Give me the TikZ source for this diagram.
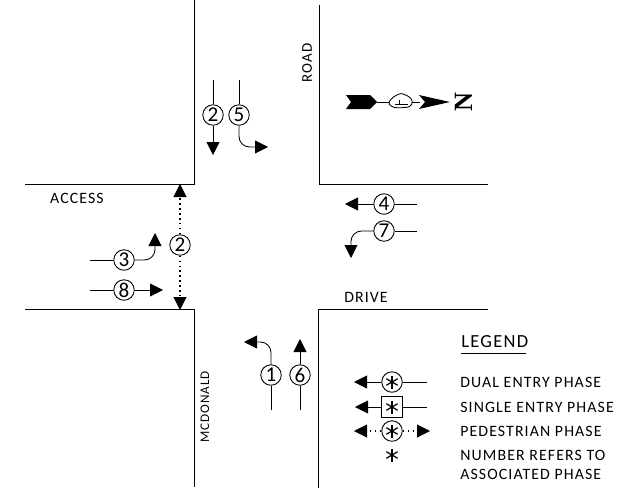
\documentclass[tikz,border=0pt]{standalone}
\usepackage{fontspec}
\setmainfont[LetterSpace=7]{Carlito}
\newfontfamily\northfont{Liberation Serif}
\usetikzlibrary{arrows.meta}
\tikzset{
   road/.style={line width=0.5pt},
   phase/.style={draw,circle,line width=0.5pt,minimum size=0.41cm,inner sep=0pt,fill=white,font=\fontsize{12}{12}\selectfont},
   boxphase/.style={draw,line width=0.5pt,minimum size=0.41cm,inner sep=0pt,fill=white},
   move/.style={line width=0.5pt,-{Triangle[length=2.6mm,width=2.6mm]}},
   tail/.style={line width=0.5pt},
   walk/.style={line width=0.6pt,dash pattern=on 0.8pt off 2pt,-{Triangle[length=2.6mm,width=2.6mm]}},
   street/.style={inner sep=0pt,font=\fontsize{9}{9}\selectfont},
   legtext/.style={anchor=west,inner sep=0pt,font=\fontsize{9}{9}\selectfont}
}
\begin{document}
\begin{tikzpicture}[x=0.2mm,y=-0.2mm]
   \useasboundingbox (0,0) rectangle (620,497);
   % street edges
   \draw[road] (194,0) -- (194,184) -- (25,184);
   \draw[road] (319,5) -- (319,184) -- (488,184);
   \draw[road] (25,309) -- (194,309) -- (194,487);
   \draw[road] (318,488) -- (318,309) -- (488,309);
   \node[street] (access) at (77,198) {ACCESS};
   \node[street] (drive) at (366,297) {DRIVE};
   \node[street,rotate=90,font=\fontsize{8.5}{8.5}\selectfont] (road) at (307,63) {ROAD};
   \node[street,rotate=90,font=\fontsize{7.5}{7.5}\selectfont] (mcdonald) at (205,407) {MCDONALD};
   % north arrow
   \fill (346,95) -- (370,95) -- (377,102) -- (370,109) -- (346,109) -- (351,102) -- cycle;
   \draw[road] (377,102) -- (420,102);
   \draw[road,fill=white,rounded corners=1.5pt] (388,103) -- (393,97) -- (401,93) -- (410,97) -- (413,102) -- (410,107) -- (398,108) -- (392,107) -- cycle;
   \draw[road] (395,104) -- (408,104) (399,104) -- (399,100);
   \fill (419,95) -- (450,102) -- (419,109) -- (425,102) -- cycle;
   \node[rotate=90,inner sep=0pt,font=\fontsize{15}{15}\selectfont\northfont\bfseries] (north) at (464,102) {N};
   % southbound
   \node[phase] (p2) at (213,115) {2};
   \node[phase] (p5) at (239,115) {5};
   \coordinate (p2top) at (213,80);
   \coordinate (p2end) at (213,155);
   \coordinate (p5top) at (239,80);
   \coordinate (p5end) at (268,147);
   \draw[tail] (p2top) -- (p2);
   \draw[move] (p2) -- (p2end);
   \draw[tail] (p5top) -- (p5);
   \draw[move,rounded corners=6pt] (p5) |- (p5end);
   % eastbound
   \node[phase] (p3) at (124,260) {3};
   \node[phase] (p8) at (124,290) {8};
   \coordinate (p3left) at (90,260);
   \coordinate (p3end) at (155,233);
   \coordinate (p8left) at (90,290);
   \coordinate (p8end) at (163,290);
   \draw[tail] (p3left) -- (p3);
   \draw[move,rounded corners=6pt] (p3) -| (p3end);
   \draw[tail] (p8left) -- (p8);
   \draw[move] (p8) -- (p8end);
   % crossing
   \node[phase] (ped) at (180,245) {2};
   \coordinate (pedtop) at (180,184);
   \coordinate (pedbot) at (180,310);
   \draw[walk] (ped) -- (pedtop);
   \draw[walk] (ped) -- (pedbot);
   % westbound
   \node[phase] (p4) at (384,204) {4};
   \node[phase] (p7) at (384,231) {7};
   \coordinate (p4right) at (417,204);
   \coordinate (p4end) at (345,204);
   \coordinate (p7right) at (417,231);
   \coordinate (p7end) at (351,258);
   \draw[tail] (p4right) -- (p4);
   \draw[move] (p4) -- (p4end);
   \draw[tail] (p7right) -- (p7);
   \draw[move,rounded corners=6pt] (p7) -| (p7end);
   % northbound
   \node[phase] (p1) at (271,375) {1};
   \node[phase] (p6) at (300,375) {6};
   \coordinate (p1bot) at (271,410);
   \coordinate (p1end) at (244,342);
   \coordinate (p6bot) at (300,410);
   \coordinate (p6end) at (300,339);
   \draw[tail] (p1bot) -- (p1);
   \draw[move,rounded corners=6pt] (p1) |- (p1end);
   \draw[tail] (p6bot) -- (p6);
   \draw[move] (p6) -- (p6end);
   % legend
   \node[anchor=west,inner sep=0pt,font=\fontsize{10.5}{10.5}\selectfont] (legend) at (461,342) {LEGEND};
   \coordinate (ulleft) at (461,353);
   \coordinate (ulright) at (526,353);
   \draw[road] (ulleft) -- (ulright);
   \node[phase] (dual) at (392,382) {};
   \node[boxphase] (single) at (392,407) {};
   \node[phase] (pedleg) at (392,431) {};
   \coordinate (star) at (392,455);
   \foreach \mark in {dual,single,pedleg,star}
      \foreach \ang in {30,90,150}
         \draw[line width=0.7pt] (\mark) ++(\ang:6.5) -- ++(\ang+180:13);
   \coordinate (dualright) at (427,382);
   \coordinate (dualend) at (354,382);
   \coordinate (singleright) at (427,407);
   \coordinate (singleend) at (355,407);
   \coordinate (pedleft) at (354,431);
   \coordinate (pedright) at (430,431);
   \draw[tail] (dualright) -- (dual);
   \draw[move] (dual) -- (dualend);
   \draw[tail] (singleright) -- (single);
   \draw[move] (single) -- (singleend);
   \draw[walk] (pedleg) -- (pedleft);
   \draw[walk] (pedleg) -- (pedright);
   \node[legtext] (t1) at (460,382) {DUAL ENTRY PHASE};
   \node[legtext] (t2) at (460,407) {SINGLE ENTRY PHASE};
   \node[legtext] (t3) at (460,431) {PEDESTRIAN PHASE};
   \node[legtext] (t4) at (460,455) {NUMBER REFERS TO};
   \node[legtext] (t5) at (460,474) {ASSOCIATED PHASE};
\end{tikzpicture}
\end{document}
